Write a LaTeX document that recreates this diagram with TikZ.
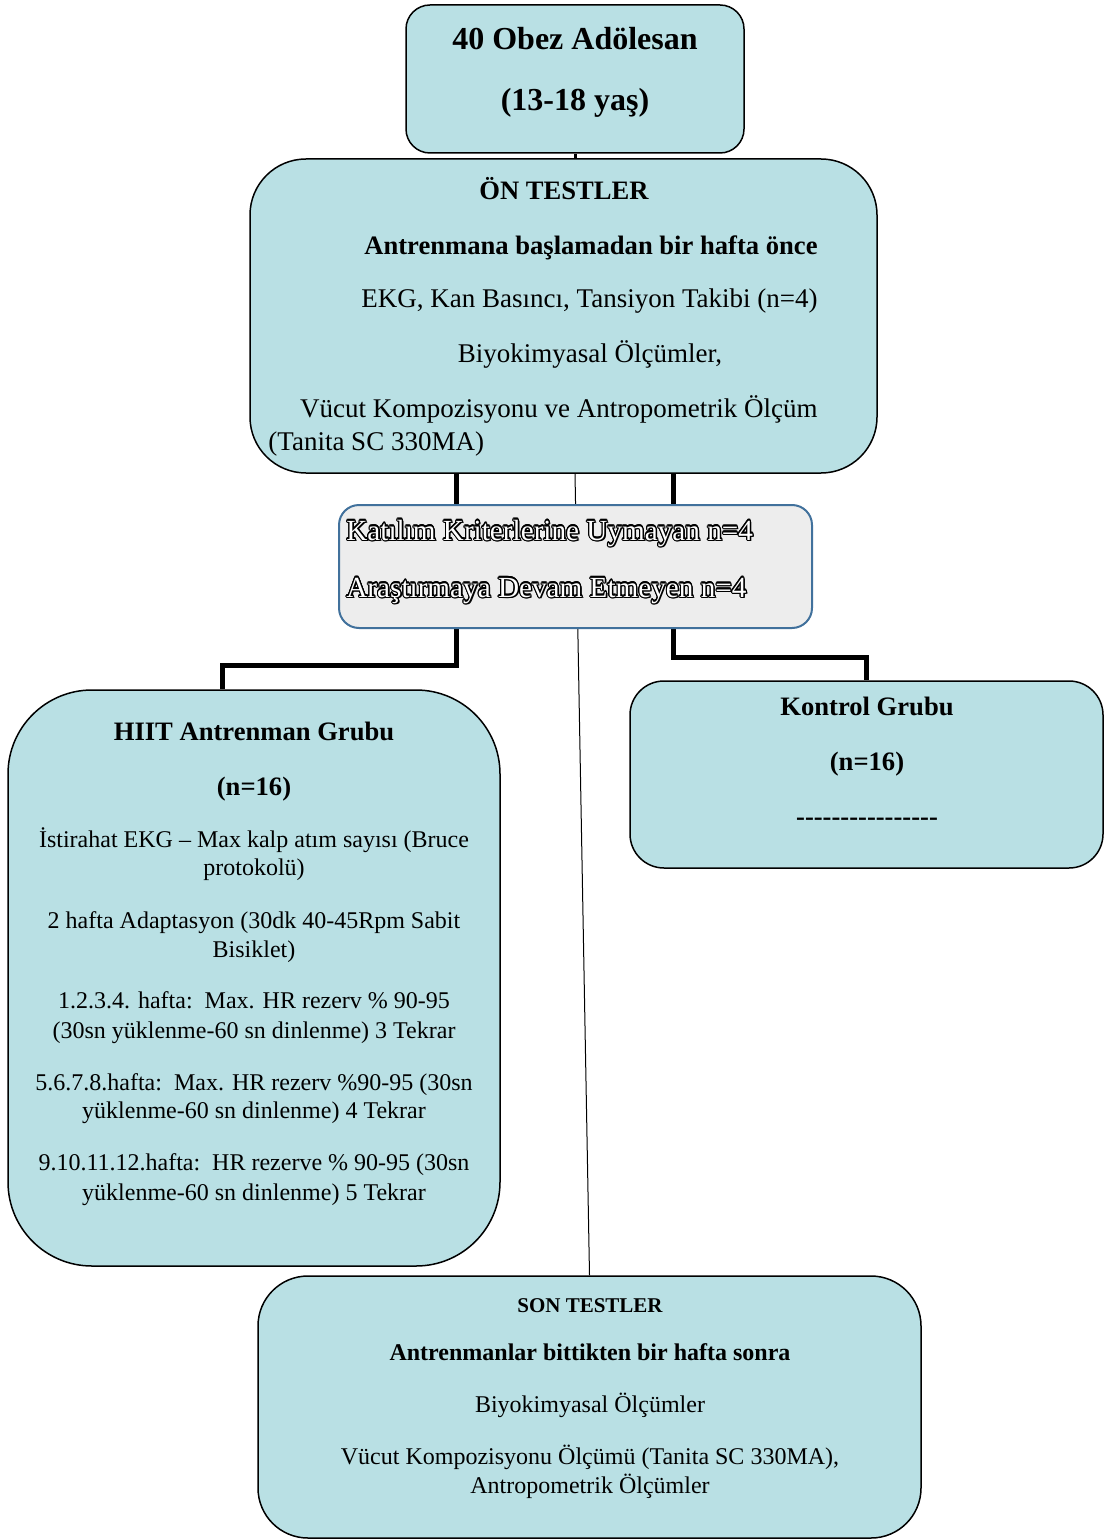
\documentclass[tikz,border=0pt]{standalone}
\usepackage{fontspec}
\setmainfont{Liberation Serif}
\usepackage[copies]{contour}
\usetikzlibrary{positioning}

\definecolor{boxteal}{RGB}{185,224,228}
\definecolor{boxgray}{RGB}{237,237,237}
\definecolor{boxblue}{RGB}{65,113,156}

\contourlength{0.55pt}
\newcommand{\hollowtext}[1]{\rlap{\kern0.8pt\raisebox{-0.8pt}{#1}}\textcolor{white}{\contour{black}{#1}}}
\newcommand{\hyph}{-\kern0pt}

\begin{document}
\begin{tikzpicture}[x=0.5pt, y=-0.5pt,
					tealbox/.style={draw=black, line width=0.75pt, fill=boxteal, inner sep=0pt},
					txt/.style={inner sep=0pt, anchor=base, font=\fontsize{12}{14}\selectfont},
					ontxt/.style={txt, font=\fontsize{13.5}{16}\selectfont},
					headtxt/.style={txt, font=\fontsize{13.3}{16}\selectfont\bfseries},
					branch/.style={line width=2.5pt, line join=miter},
					thinline/.style={line width=0.5pt}]

	\useasboundingbox (0,0) rectangle (1107,1540);

	% boxes
	\node[tealbox, rounded corners=12pt, minimum width=169pt, minimum height=74pt] (obez) at (575,79) {};
	\node[tealbox, rounded corners=28pt, minimum width=313.5pt, minimum height=157pt] (on) at (563.5,316) {};
	\node[tealbox, rounded corners=42pt, minimum width=246pt, minimum height=288pt] (hiit) at (254,978) {};
	\node[tealbox, rounded corners=17pt, minimum width=236.5pt, minimum height=93.5pt] (kontrol) at (866.5,774.5) {};
	\node[tealbox, rounded corners=25pt, minimum width=331.5pt, minimum height=131pt] (son) at (589.5,1407) {};

	% connectors
	\coordinate (splitL) at (456,665);
	\coordinate (splitR) at (673,657);
	\draw[line width=1.5pt] (obez.south) -- (obez.south |- on.north);
	\draw[thinline] (obez.south |- on.south) -- (son.north);
	\draw[branch] (on.south -| splitL) -- (splitL) -| ([xshift=-16pt]hiit.north);
	\draw[branch] (on.south -| splitR) -- (splitR) -| (kontrol.north);

	% exclusion box, over the lines
	\node[draw=boxblue, line width=1pt, fill=boxgray, rounded corners=10pt, inner sep=0pt,
		minimum width=236.5pt, minimum height=61.5pt] (kriter) at (575.5,566.5) {};

	% texts
	\node[txt, font=\fontsize{16}{19}\selectfont\bfseries] (obez1) at (575,50) {40 Obez Adölesan};
	\node[txt, font=\fontsize{16}{19}\selectfont\bfseries] (obez2) at (575,111) {(13-18 yaş)};

	\node[headtxt] (on1) at (564,200) {ÖN TESTLER};
	\node[ontxt, anchor=base east, font=\fontsize{13.3}{16}\selectfont\bfseries] (on2) at (818,255) {Antrenmana başlamadan bir hafta önce};
	\node[ontxt, anchor=base east] (on3) at (818,308) {EKG, Kan Basıncı, Tansiyon Takibi (n=4)};
	\node[ontxt] (on4) at (590,363) {Biyokimyasal Ölçümler,};
	\node[ontxt, anchor=base east] (on5) at (818,417) {Vücut Kompozisyonu ve Antropometrik Ölçüm};
	\node[ontxt, anchor=base west] (on6) at (268,450) {(Tanita SC 330MA)};

	\node[txt, anchor=base west, font=\fontsize{14.6}{16}\selectfont] (kriter1) at (346,540) {\hollowtext{Katılım Kriterlerine Uymayan n=4}};
	\node[txt, anchor=base west, font=\fontsize{14.6}{16}\selectfont] (kriter2) at (346,597) {\hollowtext{Araştırmaya Devam Etmeyen n=4}};

	\node[headtxt] (hiit1) at (254,740) {HIIT Antrenman Grubu};
	\node[headtxt] (hiit2) at (254,795) {(n=16)};
	\node[txt] (hiit3) at (254,847) {İstirahat EKG – Max kalp atım sayısı (Bruce};
	\node[txt] (hiit4) at (254,875) {protokolü)};
	\node[txt] (hiit5) at (254,928) {2 hafta Adaptasyon (30dk 40-45Rpm Sabit};
	\node[txt] (hiit6) at (254,957) {Bisiklet)};
	\node[txt] (hiit7) at (254,1008) {1.2.3.4. hafta:\ \ Max. HR rezerv \% 90-95};
	\node[txt] (hiit8) at (254,1038) {(30sn yüklenme-60 sn dinlenme) 3 Tekrar};
	\node[txt] (hiit9) at (254,1090) {5.6.7.8.hafta:\ \ Max. HR rezerv \%90-95 (30sn};
	\node[txt] (hiit10) at (254,1118) {yüklenme-60 sn dinlenme) 4 Tekrar};
	\node[txt] (hiit11) at (254,1170) {9.10.11.12.hafta:\ \ HR rezerve \% 90-95 (30sn};
	\node[txt] (hiit12) at (254,1200) {yüklenme-60 sn dinlenme) 5 Tekrar};

	\node[headtxt] (kontrol1) at (867,715) {Kontrol Grubu};
	\node[headtxt] (kontrol2) at (867,770) {(n=16)};
	\node[headtxt] (kontrol3) at (867,825) {\hyph\hyph\hyph\hyph\hyph\hyph\hyph\hyph\hyph\hyph\hyph\hyph\hyph\hyph\hyph\hyph};

	\node[txt, font=\fontsize{10.5}{12}\selectfont\bfseries] (son1) at (590,1312) {SON TESTLER};
	\node[txt, font=\fontsize{12}{14}\selectfont\bfseries] (son2) at (590,1360) {Antrenmanlar bittikten bir hafta sonra};
	\node[txt] (son3) at (590,1412) {Biyokimyasal Ölçümler};
	\node[txt] (son4) at (590,1464) {Vücut Kompozisyonu Ölçümü (Tanita SC 330MA),};
	\node[txt] (son5) at (590,1493) {Antropometrik Ölçümler};
\end{tikzpicture}
\end{document}
